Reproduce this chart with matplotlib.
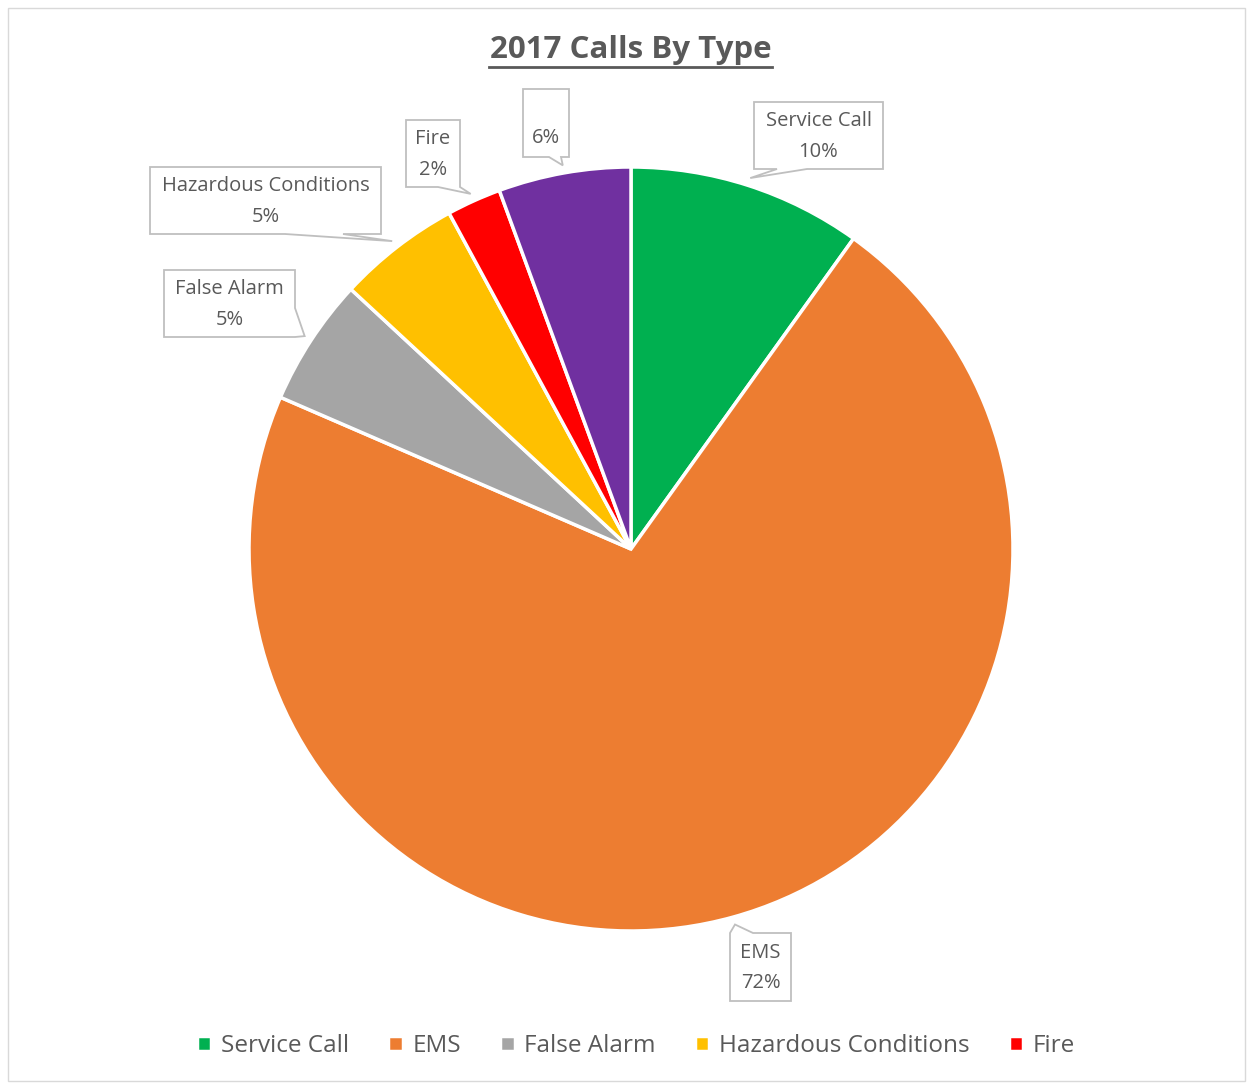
import numpy as np
import matplotlib.pyplot as plt
from matplotlib.patches import Polygon, Rectangle

# data
categories = ['Service Call', 'EMS', 'False Alarm', 'Hazardous Conditions', 'Fire', '']
shares = [9.9, 71.6, 5.4, 5.2, 2.3, 5.6]
pct_labels = ['10%', '72%', '5%', '5%', '2%', '6%']
colors = ['#00B050', '#ED7D31', '#A5A5A5', '#FFC000', '#FF0000', '#7030A0']

W, H = 1253, 1085
txt_gray = '#595959'
line_gray = '#BFBFBF'
font = 'Open Sans'

fig = plt.figure(figsize=(W / 100, H / 100), dpi=100)
ax = fig.add_axes([0, 0, 1, 1])
ax.set_aspect('equal')

cx, cy, r = 631, H - 549, 382
wedges, _ = ax.pie(shares, colors=colors, startangle=90, counterclock=False,
                   center=(cx, cy), radius=r, frame=True,
                   wedgeprops=dict(edgecolor='white', linewidth=2.5))
ax.set_xlim(0, W)
ax.set_ylim(0, H)
ax.axis('off')

# callout boxes in pixel coords: (x0, y0, x1, y1), pointer side, base start, base end
boxes = [
    (754, 102, 883, 169, 'bottom', 777, 807),
    (730, 933, 791, 1001, 'top', 730, 753),
    (164, 270, 295, 337, 'right', 308, 337),
    (150, 167, 381, 234, 'bottom', 285, 343),
    (406, 120, 460, 187, 'bottom', 438, 460),
    (523, 89, 569, 157, 'bottom', 549, 561),
]

for w, (x0, y0, x1, y1, side, b0, b1), cat, pct in zip(wedges, boxes, categories, pct_labels):
    mid = np.deg2rad((w.theta1 + w.theta2) / 2)
    tx = cx + 1.02 * r * np.cos(mid)
    ty = cy + 1.02 * r * np.sin(mid)
    # callout outline in pixel (y down) coords, None = pointer tip
    if side == 'bottom':
        pts = [(x0, y0), (x1, y0), (x1, y1), (b1, y1), None, (b0, y1), (x0, y1)]
    elif side == 'top':
        pts = [(x0, y0), (b0, y0), None, (b1, y0), (x1, y0), (x1, y1), (x0, y1)]
    else:
        pts = [(x0, y0), (x1, y0), (x1, b0), None, (x1, b1), (x1, y1), (x0, y1)]
    verts = [(tx, ty) if p is None else (p[0], H - p[1]) for p in pts]
    ax.add_patch(Polygon(verts, closed=True, facecolor='white', edgecolor=line_gray,
                         linewidth=1.3, zorder=5))
    if cat == '':
        # unnamed slice: the empty name line still takes room above the percent
        label, ymid = pct, (y0 + y1) / 2 + 15
    else:
        label, ymid = cat + '\n' + pct, (y0 + y1) / 2 + 1
    ax.text((x0 + x1) / 2, H - ymid, label, ha='center', va='center',
            fontsize=14.5, color=txt_gray, family=font, linespacing=1.7, zorder=6)

# title
ax.text(631, H - 50, '2017 Calls By Type', ha='center', va='center', fontsize=22.5,
        fontweight='bold', color=txt_gray, family=font)
ax.plot([489, 772], [H - 67, H - 67], color=txt_gray, linewidth=2)

# legend (purple slice has no name)
leg = ax.legend(wedges[:5], categories[:5], loc='center', bbox_to_anchor=(636 / W, 1 - 1046 / H),
                ncol=5, frameon=False, handlelength=0.6, handleheight=0.6, handletextpad=0.4,
                columnspacing=1.6, prop={'family': font, 'size': 17.5})
for t in leg.get_texts():
    t.set_color(txt_gray)

# chart border
ax.add_patch(Rectangle((8, 4), W - 16, H - 12, fill=False, edgecolor='#D9D9D9', linewidth=1))

fig.savefig('out.png', dpi=100)
